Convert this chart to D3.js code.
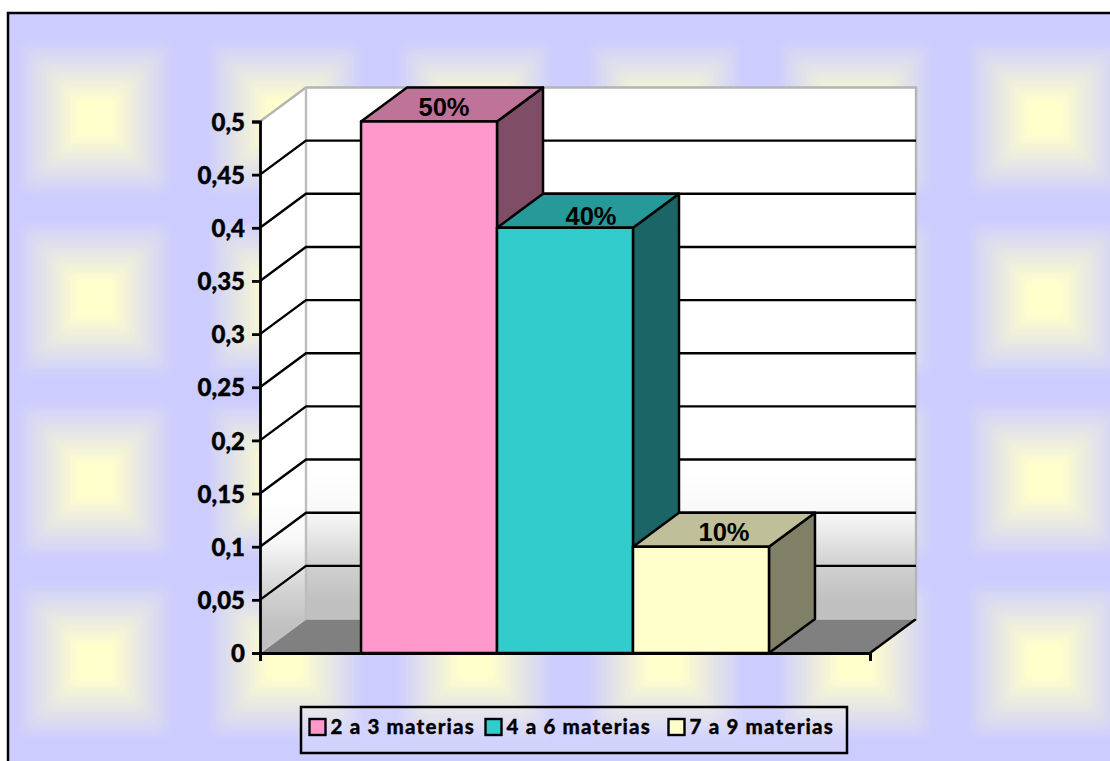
<!DOCTYPE html>
<html>
<head>
<meta charset="utf-8">
<script src="https://cdn.jsdelivr.net/npm/d3@7"></script>
<style>
html, body { margin: 0; padding: 0; background: #fff; overflow: hidden; }
svg { display: block; }
</style>
</head>
<body>
<svg id="chart"></svg>
<script>
// data
const series = ["2 a 3 materias", "4 a 6 materias", "7 a 9 materias"];
const values = [0.5, 0.4, 0.1];
const valueLabels = ["50%", "40%", "10%"];
const yTicks = [0, 0.05, 0.1, 0.15, 0.2, 0.25, 0.3, 0.35, 0.4, 0.45, 0.5];
const yTickLabels = ["0", "0,05", "0,1", "0,15", "0,2", "0,25", "0,3", "0,35", "0,4", "0,45", "0,5"];

const frontColors = ["#FF99CC", "#33CCCC", "#FFFFCC"];
const topColors = ["#BF7399", "#269999", "#BFBF99"];
const sideColors = ["#804D66", "#1A6666", "#808066"];

const width = 1110, height = 761;
const dx = 46, dy = -34; // depth of the 3d box
const x0 = 260, x1 = 870, yBase = 653, yTop = 121.5;
const labelFont = "Lato, 'Open Sans', sans-serif";

const svg = d3.select("#chart").attr("width", width).attr("height", height);
const defs = svg.append("defs");

// x scale: one group of three touching bars, gap on both sides
const x = d3.scaleBand().domain(series).range([x0, x1]).paddingInner(0).paddingOuter(0.743);
const y = d3.scaleLinear().domain([0, 0.5]).range([yBase, yTop]);

// background tile, nested squares from lavender to pale yellow
const tile = defs.append("pattern")
    .attr("id", "tile")
    .attr("patternUnits", "userSpaceOnUse")
    .attr("x", 0).attr("y", 27.5)
    .attr("width", 190).attr("height", 181);
tile.append("rect").attr("width", 190).attr("height", 181).attr("fill", "#CCCCFF");
const tileColor = d3.interpolateRgb("#CCCCFF", "#FFFFCC");
const steps = d3.range(0, 40);
const half = d => 80 - d * 2;
tile.selectAll("rect.step").data(steps).enter().append("rect")
    .attr("class", "step")
    .attr("x", d => 95 - half(d))
    .attr("y", d => 90.5 - half(d))
    .attr("width", d => 2 * half(d))
    .attr("height", d => 2 * half(d))
    .attr("rx", d => half(d) * 0.15)
    .attr("fill", d => tileColor(Math.min(1, d / 32)));

// wall shading
function wallGradient(id, shift) {
    const g = defs.append("linearGradient").attr("id", id)
        .attr("gradientUnits", "userSpaceOnUse")
        .attr("x1", 0).attr("x2", 0).attr("y1", 470 + shift).attr("y2", 600 + shift);
    [[0, "#ffffff"], [0.33, "#f8f8f8"], [0.74, "#d0d0d0"], [1, "#c0c0c0"]].forEach(s => {
        g.append("stop").attr("offset", s[0]).attr("stop-color", s[1]);
    });
}
wallGradient("backWall", 0);
wallGradient("sideWall", 28);

// frame with the tiled fill, runs off the right and bottom of the page
svg.append("rect")
    .attr("x", 8).attr("y", 13)
    .attr("width", width + 10).attr("height", height + 10)
    .attr("fill", "url(#tile)")
    .attr("stroke", "#000").attr("stroke-width", 2.5);

const poly = pts => pts.map(p => p.join(",")).join(" ");
const yb = y(0), yt = y(0.5);

// floor
svg.append("polygon")
    .attr("points", poly([[x0, yb], [x0 + dx, yb + dy], [x1 + dx, yb + dy], [x1, yb]]))
    .attr("fill", "#808080");
// side wall
svg.append("polygon")
    .attr("points", poly([[x0, yb], [x0 + dx, yb + dy], [x0 + dx, yt + dy], [x0, yt]]))
    .attr("fill", "url(#sideWall)");
// back wall
svg.append("rect")
    .attr("x", x0 + dx).attr("y", yt + dy)
    .attr("width", x1 - x0).attr("height", yb - yt)
    .attr("fill", "url(#backWall)");

// wall edges
svg.append("path")
    .attr("d", d3.line()([[x0, yb], [x0 + dx, yb + dy], [x1 + dx, yb + dy]]))
    .attr("fill", "none").attr("stroke", "#c4c4c4").attr("stroke-width", 1.5);
svg.append("path")
    .attr("d", d3.line()([[x1 + dx, yb + dy], [x1, yb]]))
    .attr("fill", "none").attr("stroke", "#000").attr("stroke-width", 2.5);
svg.append("path")
    .attr("d", d3.line()([[x0, yt], [x0 + dx, yt + dy], [x1 + dx, yt + dy], [x1 + dx, yb + dy]]))
    .attr("fill", "none").attr("stroke", "#b4b4b4").attr("stroke-width", 2.4);
svg.append("line")
    .attr("x1", x0 + dx).attr("x2", x0 + dx).attr("y1", yt + dy).attr("y2", yb + dy)
    .attr("stroke", "#bdbdbd").attr("stroke-width", 2.4);

// gridlines on both walls
const gridTicks = yTicks.filter(d => d > 0 && d < 0.5);
svg.append("g").selectAll("path").data(gridTicks).enter().append("path")
    .attr("d", d => d3.line()([[x0, y(d)], [x0 + dx, y(d) + dy], [x1 + dx, y(d) + dy]]))
    .attr("fill", "none").attr("stroke", "#000").attr("stroke-width", 2.4);

// bars
const bars = svg.append("g").selectAll("g").data(series).enter().append("g");
const stroke = g => g.attr("stroke", "#000").attr("stroke-width", 2.5).attr("stroke-linejoin", "round");
bars.append("polygon")
    .attr("points", (d, i) => poly([[x(d) + x.bandwidth(), y(values[i])], [x(d) + x.bandwidth() + dx, y(values[i]) + dy],
        [x(d) + x.bandwidth() + dx, yb + dy], [x(d) + x.bandwidth(), yb]]))
    .attr("fill", (d, i) => sideColors[i]).call(stroke);
bars.append("polygon")
    .attr("points", (d, i) => poly([[x(d), y(values[i])], [x(d) + dx, y(values[i]) + dy],
        [x(d) + x.bandwidth() + dx, y(values[i]) + dy], [x(d) + x.bandwidth(), y(values[i])]]))
    .attr("fill", (d, i) => topColors[i]).call(stroke);
bars.append("rect")
    .attr("x", d => x(d)).attr("y", (d, i) => y(values[i]))
    .attr("width", x.bandwidth()).attr("height", (d, i) => yb - y(values[i]))
    .attr("fill", (d, i) => frontColors[i]).call(stroke);

// value labels, the labels do not sit at the same spot on each bar top
const labelShiftX = [15, 26, 23];
const labelShiftY = [-6, -3, -6];
bars.append("text")
    .attr("x", (d, i) => x(d) + x.bandwidth() / 2 + labelShiftX[i])
    .attr("y", (d, i) => y(values[i]) + labelShiftY[i])
    .attr("text-anchor", "middle")
    .attr("font-family", "'Liberation Sans', Arial, sans-serif")
    .attr("font-weight", "bold").attr("font-size", 25.5)
    .text((d, i) => valueLabels[i]);

// y axis
const yAxis = d3.axisLeft(y).tickValues(yTicks).tickSize(8).tickPadding(7)
    .tickFormat((d, i) => yTickLabels[i]);
const gy = svg.append("g").attr("transform", `translate(${x0},0)`).call(yAxis);
gy.selectAll(".domain, .tick line").attr("stroke", "#000").attr("stroke-width", 2.8);
gy.selectAll("text")
    .attr("fill", "#000").attr("stroke", "#000").attr("stroke-width", 0.4)
    .attr("dy", "0.36em")
    .attr("font-family", labelFont)
    .attr("font-weight", 900).attr("font-size", 24);

// x axis, no labels, ticks at the two ends only
const xAxis = d3.axisBottom(d3.scaleLinear().domain([0, 1]).range([x0, x1]))
    .tickValues([0, 1]).tickSize(8).tickFormat("");
const gx = svg.append("g").attr("transform", `translate(0,${yb})`).call(xAxis);
gx.selectAll(".domain, .tick line").attr("stroke", "#000").attr("stroke-width", 2.8);

// legend
const legendX = [309.5, 485.5, 668.5];
svg.append("rect")
    .attr("x", 301).attr("y", 707).attr("width", 546).attr("height", 46)
    .attr("fill", "#ffffff").attr("fill-opacity", 0.12)
    .attr("stroke", "#000").attr("stroke-width", 2.5);
const legend = svg.append("g").selectAll("g").data(series).enter().append("g")
    .attr("transform", (d, i) => `translate(${legendX[i]},719)`);
legend.append("rect")
    .attr("width", 16).attr("height", 16)
    .attr("fill", (d, i) => frontColors[i])
    .attr("stroke", "#000").attr("stroke-width", 2.4);
legend.append("text")
    .attr("x", 21).attr("y", 15)
    .attr("fill", "#000").attr("stroke", "#000").attr("stroke-width", 0.3)
    .attr("font-family", labelFont).attr("font-weight", 900)
    .attr("font-size", 20.5).attr("letter-spacing", 1.2)
    .text(d => d);
</script>
</body>
</html>
